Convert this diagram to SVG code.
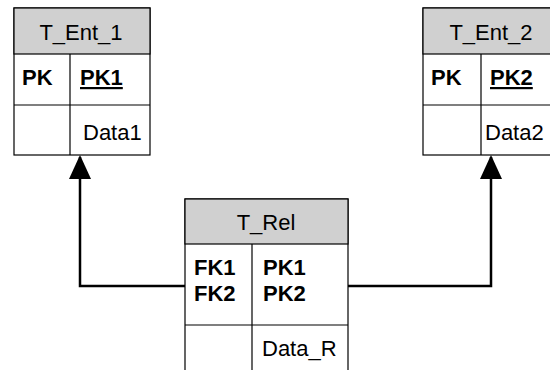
<svg xmlns="http://www.w3.org/2000/svg" width="550" height="370" viewBox="0 0 550 370">
<defs>
<style>
.hdr{fill:#d0d0d0;stroke:#000;stroke-width:1.2}
.box{fill:#fff;stroke:#000;stroke-width:1.2}
.ln{stroke:#000;stroke-width:1.2;fill:none}
text{font-family:"Liberation Sans",Arial,sans-serif;font-size:22px;fill:#000}
.c{text-anchor:middle}
.b{font-weight:bold}
.u{text-decoration:underline}
.con{stroke:#000;stroke-width:2.5;fill:none}
</style>
<marker id="arr" markerUnits="userSpaceOnUse" markerWidth="24" markerHeight="26" refX="22" refY="11" orient="auto" viewBox="0 0 24 22">
<path d="M0,0 L24,11 L0,22 Z" fill="#000"/>
</marker>
</defs>
<rect width="550" height="370" fill="#fff"/>
<g id="T_Ent_1">
<rect class="box" x="14" y="8" width="136" height="147"/>
<rect class="hdr" x="14" y="8" width="136" height="46"/>
<line class="ln" x1="14" y1="105" x2="150" y2="105"/>
<line class="ln" x1="70" y1="54" x2="70" y2="155"/>
<text class="c" x="81" y="40">T_Ent_1</text>
<text class="b" x="22" y="85">PK</text>
<text class="b u" x="80" y="85">PK1</text>
<text x="83" y="140">Data1</text>
</g>
<g id="T_Ent_2">
<rect class="box" x="423" y="8" width="136" height="147"/>
<rect class="hdr" x="423" y="8" width="136" height="46"/>
<line class="ln" x1="423" y1="105" x2="559" y2="105"/>
<line class="ln" x1="481" y1="54" x2="481" y2="155"/>
<text class="c" x="491" y="40">T_Ent_2</text>
<text class="b" x="431" y="85">PK</text>
<text class="b u" x="490" y="85">PK2</text>
<text x="485" y="140">Data2</text>
</g>
<g id="T_Rel">
<rect class="box" x="185" y="199" width="163" height="190"/>
<rect class="hdr" x="185" y="199" width="163" height="45"/>
<line class="ln" x1="185" y1="325" x2="348" y2="325"/>
<line class="ln" x1="252" y1="244" x2="252" y2="389"/>
<text class="c" x="266" y="230">T_Rel</text>
<text class="b" x="194" y="275">FK1</text>
<text class="b" x="194" y="301">FK2</text>
<text class="b" x="263" y="275">PK1</text>
<text class="b" x="263" y="301">PK2</text>
<text x="262" y="356">Data_R</text>
</g>
<g id="connectors">
<path class="con" d="M185,286 H80 V157" marker-end="url(#arr)"/>
<path class="con" d="M348,286 H491 V157" marker-end="url(#arr)"/>
</g>
</svg>
